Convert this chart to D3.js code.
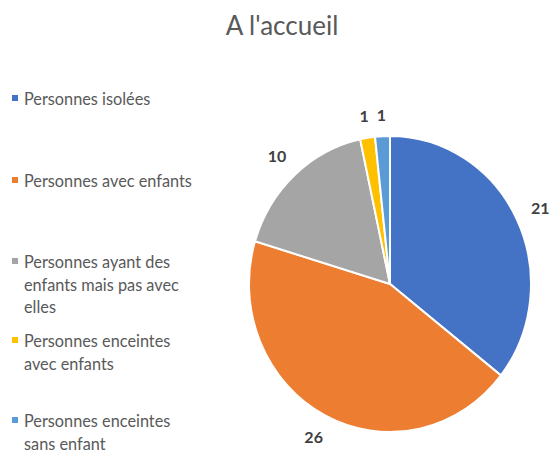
<!DOCTYPE html>
<html>
<head>
<meta charset="utf-8">
<script src="https://cdn.jsdelivr.net/npm/d3@7"></script>
<style>
  body { margin: 0; background: #fff; }
  text { font-family: Lato, "Liberation Sans", sans-serif; }
</style>
</head>
<body>
<div id="chart"></div>
<script>
const width = 554;
const height = 453;

const categories = [
  "Personnes isolées",
  "Personnes avec enfants",
  "Personnes ayant des enfants mais pas avec elles",
  "Personnes enceintes avec enfants",
  "Personnes enceintes sans enfant"
];
const values = [21, 26, 10, 1, 1];
const colors = ["#4472C4", "#ED7D31", "#A5A5A5", "#FFC000", "#5B9BD5"];
// legend text wrapped the way the picture shows it
const legendLines = [
  ["Personnes isolées"],
  ["Personnes avec enfants"],
  ["Personnes ayant des", "enfants mais pas avec", "elles"],
  ["Personnes enceintes", "avec enfants"],
  ["Personnes enceintes", "sans enfant"]
];
const legendBaselines = [105, 187, 268, 347, 427];

const data = categories.map((c, i) => ({name: c, value: values[i], color: colors[i], lines: legendLines[i]}));

const svg = d3.select("#chart").append("svg")
  .attr("width", width)
  .attr("height", height);

svg.append("text")
  .attr("x", 282)
  .attr("y", 35)
  .attr("text-anchor", "middle")
  .attr("font-size", 26)
  .attr("fill", "#595959")
  .text("A l'accueil");

// pie (the picture is slightly stretched vertically)
const cx = 390, cy = 284;
const radius = 141;
const sy = 148 / 141;
const gap = 15;

const pie = d3.pie().sort(null).value(d => d.value);
const arc = d3.arc().innerRadius(0).outerRadius(radius);
const arcs = pie(data);

svg.append("g")
  .attr("transform", `translate(${cx},${cy}) scale(1,${sy})`)
  .selectAll("path")
  .data(arcs)
  .join("path")
    .attr("d", arc)
    .attr("fill", d => d.data.color)
    .attr("stroke", "#fff")
    .attr("stroke-width", 2)
    .attr("vector-effect", "non-scaling-stroke");

// data labels: put the label box just outside the slice edge
const labels = svg.append("g")
  .selectAll("text")
  .data(arcs)
  .join("text")
    .attr("text-anchor", "middle")
    .attr("dy", "0.35em")
    .attr("font-size", 16)
    .attr("font-weight", "bold")
    .attr("fill", "#404040")
    .text(d => d.data.value);

labels.each(function(d) {
  const a = (d.startAngle + d.endAngle) / 2;
  const ux = Math.sin(a), uy = -Math.cos(a);
  const px = cx + ux * radius, py = cy + uy * radius * sy;
  const w = this.getComputedTextLength(), h = 12;
  const off = gap + Math.abs(ux) * w / 2 + Math.abs(uy) * h / 2;
  d3.select(this)
    .attr("x", px + ux * off)
    .attr("y", py + uy * off);
});

// legend
const legend = svg.append("g")
  .selectAll("g")
  .data(data)
  .join("g")
    .attr("transform", (d, i) => `translate(0,${legendBaselines[i]})`);

legend.append("rect")
  .attr("x", 12)
  .attr("y", -10)
  .attr("width", 6)
  .attr("height", 6)
  .attr("fill", d => d.color);

legend.append("text")
  .attr("font-size", 16.3)
  .attr("fill", "#595959")
  .selectAll("tspan")
  .data(d => d.lines)
  .join("tspan")
    .attr("x", 24)
    .attr("y", (d, i) => i * 22.5)
    .text(d => d);
</script>
</body>
</html>
